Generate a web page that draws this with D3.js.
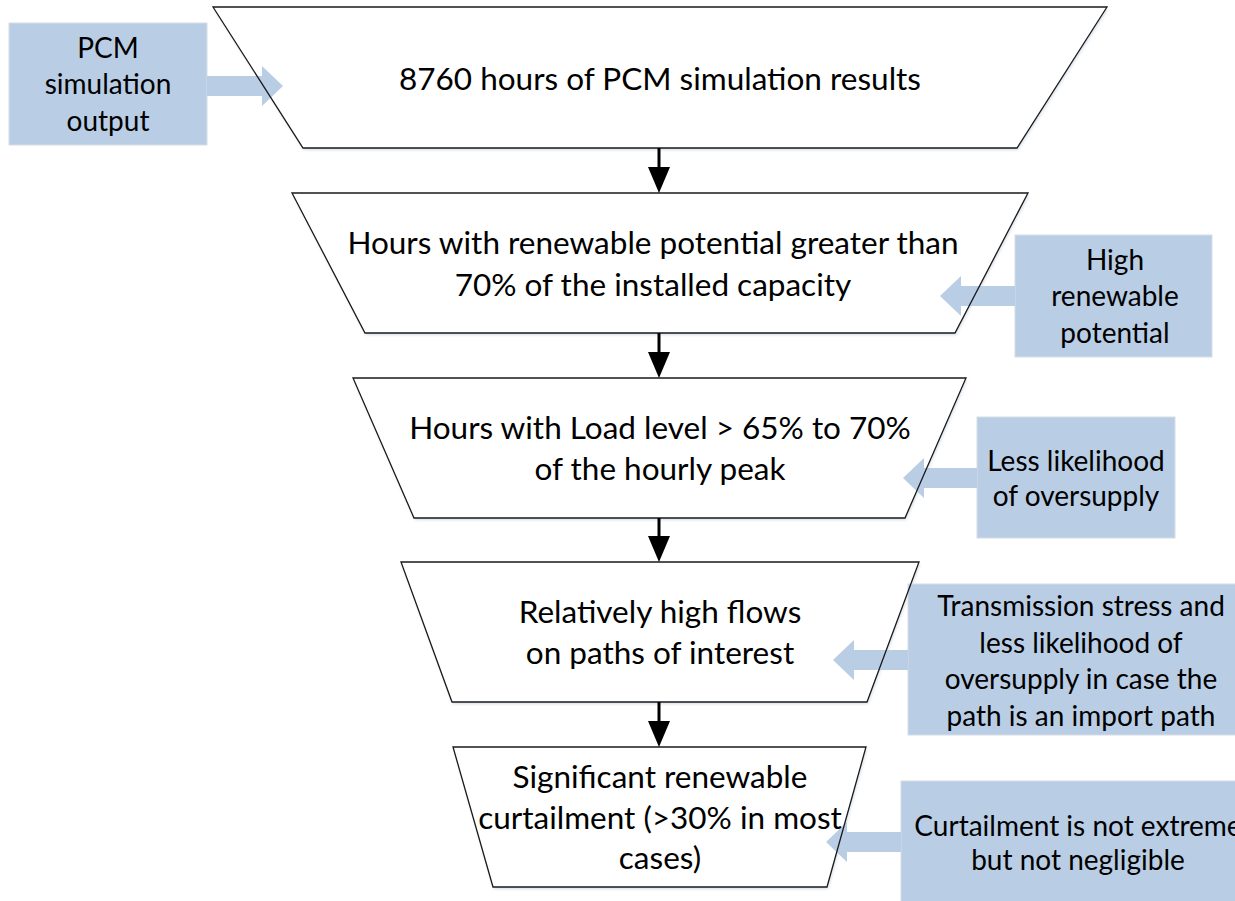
<!DOCTYPE html>
<html>
<head>
<meta charset="utf-8">
<script src="https://cdn.jsdelivr.net/npm/d3@7"></script>
<style>
  html, body { margin: 0; padding: 0; background: #fff; }
  svg { display: block; }
</style>
</head>
<body>
<svg id="chart"></svg>
<script>
// ---- content ----
const steps = [
  ["8760 hours of PCM simulation results"],
  ["Hours with renewable potential greater than", "70% of the installed capacity"],
  ["Hours with Load level > 65% to 70%", "of the hourly peak"],
  ["Relatively high flows", "on paths of interest"],
  ["Significant renewable", "curtailment (>30% in most", "cases)"]
];
const notes = [
  ["PCM", "simulation", "output"],
  ["High", "renewable", "potential"],
  ["Less likelihood", "of oversupply"],
  ["Transmission stress and", "less likelihood of", "oversupply in case the", "path is an import path"],
  ["Curtailment is not extreme", "but not negligible"]
];

// ---- layout (pixels) ----
// funnel stages: top y, bottom y, top-left, top-right, bottom-left, bottom-right
const stageBox = [
  [7, 148, 213, 1107, 303, 1017],
  [193, 333, 292, 1028, 365, 955],
  [378, 518, 353, 966, 414, 905],
  [562, 702, 401, 919, 452, 867],
  [747, 887, 453, 866, 493, 827]
];
// side notes: x, y, w, h, arrow from x, arrow tip x, arrow y
const noteBox = [
  [9, 23, 198, 122, 207, 283, 86],
  [1015, 235, 197, 122, 1015, 940, 296],
  [977, 417, 198, 121, 977, 903, 478],
  [908, 584, 340, 151, 908, 833, 660],
  [901, 781, 352, 130, 901, 826, 842]
];

const W = 1235, H = 901;
const FONT = "Lato, 'Open Sans', sans-serif";
const BLUE = "#b9cde5";
const CX = 659;

const svg = d3.select("#chart").attr("width", W).attr("height", H);

const defs = svg.append("defs");
const sh = defs.append("filter").attr("id", "shadow")
  .attr("x", "-5%").attr("y", "-5%").attr("width", "110%").attr("height", "115%");
sh.append("feDropShadow").attr("dx", 1).attr("dy", 2).attr("stdDeviation", 1.5)
  .attr("flood-color", "#9fb4cc").attr("flood-opacity", 0.45);

const trapPts = d => [[d[2], d[0]], [d[3], d[0]], [d[5], d[1]], [d[4], d[1]]];
const line = d3.line();

// white fills first, so the blue arrows can sit on top
svg.append("g").selectAll("path").data(stageBox).join("path")
  .attr("d", d => line(trapPts(d)) + "Z")
  .attr("fill", "#fff")
  .attr("filter", "url(#shadow)");

// side note boxes
svg.append("g").selectAll("rect").data(noteBox).join("rect")
  .attr("x", d => d[0]).attr("y", d => d[1])
  .attr("width", d => d[2]).attr("height", d => d[3])
  .attr("fill", BLUE)
  .attr("stroke", "#d6dde6").attr("stroke-width", 1);

// block arrows from notes into the funnel
function blockArrow(x0, x1, y) {
  const dir = Math.sign(x1 - x0);
  const sw = 10, hw = 20, hl = 21;
  const xb = x1 - dir * hl;
  return line([[x0, y - sw], [xb, y - sw], [xb, y - hw], [x1, y],
               [xb, y + hw], [xb, y + sw], [x0, y + sw]]) + "Z";
}
svg.append("g").selectAll("path").data(noteBox).join("path")
  .attr("d", d => blockArrow(d[4], d[5], d[6]))
  .attr("fill", BLUE);

// outlines on top
svg.append("g").selectAll("path").data(stageBox).join("path")
  .attr("d", d => line(trapPts(d)) + "Z")
  .attr("fill", "none")
  .attr("stroke", "#1a1a1a").attr("stroke-width", 1.3)
  .attr("stroke-linejoin", "miter");

// down arrows between stages
const links = d3.pairs(stageBox);
const ga = svg.append("g");
ga.selectAll("line").data(links).join("line")
  .attr("x1", CX).attr("x2", CX)
  .attr("y1", d => d[0][1]).attr("y2", d => d[1][0] - 20)
  .attr("stroke", "#000").attr("stroke-width", 3);
ga.selectAll("path").data(links).join("path")
  .attr("d", d => {
    const yt = d[1][0];
    return line([[CX - 11, yt - 26], [CX + 11, yt - 26], [CX, yt]]) + "Z";
  })
  .attr("fill", "#000");

// stage labels
const stageText = [
  { x: 660, y: 79, lh: 41 },
  { x: 653, y: 243, lh: 42 },
  { x: 660, y: 428, lh: 41 },
  { x: 660, y: 612, lh: 41 },
  { x: 660, y: 777, lh: 40.5 }
];
const noteText = [
  { x: 108, y: 48, lh: 36.5 },
  { x: 1115, y: 260, lh: 36.5 },
  { x: 1076, y: 461, lh: 35.5 },
  { x: 1081, y: 606, lh: 36.7 },
  { x: 1078, y: 826, lh: 34 }
];

function writeLines(g, lines, pos, size) {
  const t = g.append("text")
    .attr("text-anchor", "middle")
    .attr("font-family", FONT)
    .attr("font-size", size)
    .attr("fill", "#000");
  lines.forEach((s, i) => {
    t.append("tspan").attr("x", pos.x).attr("y", pos.y + i * pos.lh)
      .attr("dy", "0.35em").text(s);
  });
}

const gt = svg.append("g");
steps.forEach((lines, i) => writeLines(gt, lines, stageText[i], 31.5));
notes.forEach((lines, i) => writeLines(gt, lines, noteText[i], 28));
</script>
</body>
</html>
